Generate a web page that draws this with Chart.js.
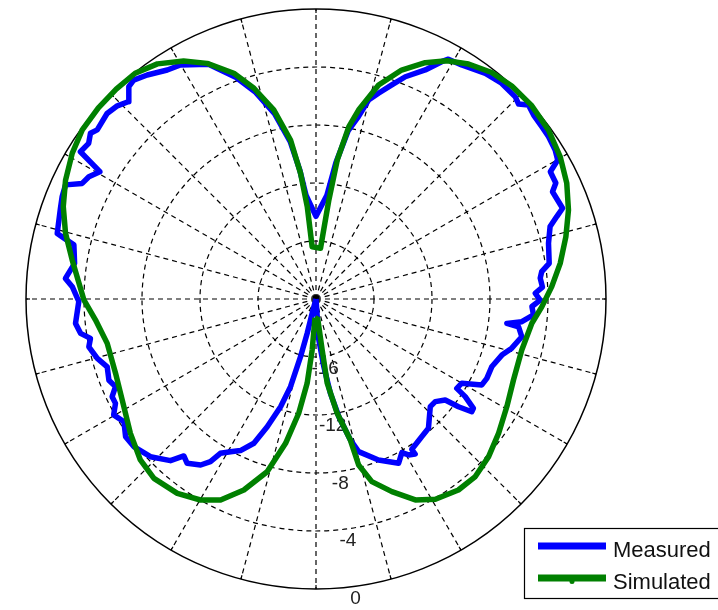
<!DOCTYPE html>
<html><head><meta charset="utf-8">
<script src="https://cdn.jsdelivr.net/npm/chart.js@4"></script>
<style>html,body{margin:0;padding:0;background:#fff}#wrap{width:718px;height:610px;position:relative}</style>
</head><body><div id="wrap"><canvas id="c"></canvas></div>
<script>
// Radial rings (dB) and their labels
const ringValues = [-20, -16, -12, -8, -4, 0];
const ringLabels = ['-16', '-12', '-8', '-4', '0'];
// Spoke directions (degrees clockwise from top)
const spokeAngles = [0,15,30,45,60,75,90,105,120,135,150,165,180,195,210,225,240,255,270,285,300,315,330,345];
const seriesNames = ['Measured', 'Simulated'];

// Measured pattern: angle (deg, clockwise from top) and gain (dB)
const measuredAngle = [-180,-165,-165.6,-165.0,-163.8,-161.8,-159.1,-156.7,-153.5,-150.8,
 -148.2,-147.0,-145.2,-141.9,-139.9,-138.0,-133.6,-129.0,-125.9,-122.6,
 -119.8,-117.5,-115.6,-113.6,-111.4,-108.0,-105.2,-101.9,-99.9,-98.3,
 -95.8,-90.6,-87.1,-85.3,-81.6,-77.4,-75.8,-70.5,-68.0,-65.5,
 -63.7,-61.7,-59.5,-58.0,-55.6,-53.7,-52.3,-48.4,-45.8,-43.6,
 -41.4,-39.8,-37.0,-33.0,-30.1,-24.6,-20.0,-16.4,-12.6,-9.3,
 -7.2,-5.5,0,6.0,8.3,10.8,13.1,14.8,16.9,19.5,
 21.9,25.5,27.9,28.9,31.9,36.9,40.7,44.6,46.1,47.6,
 49.8,52.6,55.1,58.1,60.1,61.5,64.2,65.6,69.8,71.1,
 72.8,76.5,81.3,83.1,84.7,87.0,88.5,90.3,92.0,94.2,
 96.3,97.3,97.8,100.4,104.1,106.8,111.1,114.9,117.4,120.0,
 122.4,123.2,124.8,125.9,127.1,128.0,130.7,133.3,139.0,142.5,
 145.8,147.5,147.4,149.3,150.8,153.3,158.8,164.4,166.3,169.0,
 171.3,173.4,176,180];
const measuredDb = [-20,-18.98,-17.56,-15.88,-13.7,-12.18,-10.57,-9.17,-8.32,-7.93,
 -7.48,-6.63,-6.06,-5.6,-5.85,-5.0,-4.23,-3.83,-3.79,-4.28,
 -3.92,-4.41,-4.41,-4.91,-4.66,-4.86,-4.37,-3.99,-4.21,-3.59,
 -3.33,-3.64,-3.17,-2.66,-3.17,-2.89,-1.59,-1.3,-1.12,-1.02,
 -2.01,-2.21,-2.7,-0.84,-1.0,-0.70,-0.93,-0.73,-0.89,-1.21,
 -0.48,-0.35,-0.66,-1.17,-1.35,-2.2,-3.7,-5.1,-6.9,-9.0,
 -11.0,-12.8,-14.3,-12.8,-10.5,-8.2,-7.09,-5.81,-5.17,-4.34,
 -3.48,-2.5,-1.48,-1.11,-0.99,-0.54,-0.37,-0.42,-0.61,-0.16,
 -0.35,-0.41,-0.44,-0.57,-0.77,-1.61,-1.63,-2.09,-1.88,-2.45,
 -3.1,-3.51,-3.73,-4.32,-4.47,-4.36,-4.88,-4.54,-5.1,-4.96,
 -5.72,-6.73,-5.9,-5.57,-6.08,-6.61,-7.01,-7.01,-7.12,-8.39,
 -8.5,-7.7,-6.78,-6.74,-7.68,-8.69,-9.15,-9.17,-8.18,-8.03,
 -7.83,-7.71,-7.31,-7.49,-7.86,-7.32,-8.09,-9.07,-10.0,-11.73,
 -13.42,-15.3,-17.17,-20];

// Simulated pattern
const simulatedAngle = [-177,-175.7,-174.0,-171.4,-168.1,-164.2,-159.3,-154.6,-150.1,-144.5,
 -137.9,-132.5,-125.9,-117.5,-110.3,-102.0,-95.4,-90.2,-80.9,-75.3,
 -69.9,-64.6,-59.1,-54.1,-48.7,-43.6,-38.7,-34.0,-29.1,-24.8,
 -20.0,-16.4,-12.6,-9.1,-7.0,-5.4,-4.2,5.1,7.4,8.7,
 10.8,12.7,16.3,20.5,24.8,28.8,33.0,37.8,42.6,48.0,
 54.0,59.8,65.2,70.6,76.0,81.7,87.0,92.0,96.4,103.9,
 112.3,119.4,126.3,132.4,138.1,143.3,149.2,153.7,158.5,163.0,
 165.6,166.3,169.5,172.4,173.1,175,183];
const simulatedDb = [-18.7,-16.47,-14.15,-12.03,-9.83,-7.62,-5.92,-4.66,-4.01,-3.53,
 -3.33,-3.57,-4.2,-4.93,-5.26,-5.28,-4.72,-3.99,-2.97,-2.14,
 -1.44,-0.88,-0.41,-0.1,-0.02,-0.02,-0.05,-0.44,-1.22,-2.1,
 -3.43,-4.85,-6.64,-8.9,-11.27,-13.6,-16.39,-16.49,-13.12,-10.3,
 -7.9,-6.64,-4.62,-3.14,-2.05,-1.25,-0.68,-0.23,-0.05,-0.02,
 -0.18,-0.51,-0.95,-1.54,-2.24,-2.98,-3.72,-4.42,-5.02,-5.38,
 -5.28,-4.89,-4.37,-3.88,-3.55,-3.57,-3.92,-4.54,-5.72,-6.83,
 -8.18,-9.99,-11.98,-14.14,-16.45,-18.6,-18.7];

const rMin = ringValues[0];
const rMax = ringValues[ringValues.length - 1];
const span = rMax - rMin;

function toXY(angles, dbs) {
  return angles.map((a, i) => {
    const r = dbs[i] - rMin;
    const t = a * Math.PI / 180;
    return { x: r * Math.sin(t), y: r * Math.cos(t) };
  });
}

const polarGrid = {
  id: 'polarGrid',
  beforeDatasetsDraw(chart) {
    const { ctx, scales: { x, y } } = chart;
    const cx = x.getPixelForValue(0), cy = y.getPixelForValue(0);
    const R = x.getPixelForValue(span) - cx;
    ctx.save();
    ctx.strokeStyle = '#000';
    ctx.lineWidth = 1.2;
    ctx.setLineDash([5, 4]);
    spokeAngles.forEach(a => {
      const t = a * Math.PI / 180;
      ctx.beginPath();
      ctx.moveTo(cx, cy);
      ctx.lineTo(cx + R * Math.sin(t), cy - R * Math.cos(t));
      ctx.stroke();
    });
    ringValues.slice(1, -1).forEach(v => {
      const r = x.getPixelForValue(v - rMin) - cx;
      ctx.beginPath();
      ctx.arc(cx, cy, r, 0, Math.PI * 2);
      ctx.stroke();
    });
    ctx.setLineDash([]);
    // solid tick at the end of each spoke
    ctx.lineWidth = 1.2;
    spokeAngles.forEach(a => {
      const t = a * Math.PI / 180;
      ctx.beginPath();
      ctx.moveTo(cx + (R - 4) * Math.sin(t), cy - (R - 4) * Math.cos(t));
      ctx.lineTo(cx + R * Math.sin(t), cy - R * Math.cos(t));
      ctx.stroke();
    });
    ctx.lineWidth = 1.5;
    ctx.beginPath();
    ctx.arc(cx, cy, R, 0, Math.PI * 2);
    ctx.stroke();
    ctx.fillStyle = '#000';
    ctx.beginPath();
    ctx.arc(cx, cy - 1, 3, 0, Math.PI * 2);
    ctx.fill();
    // ring labels
    ctx.fillStyle = '#222';
    ctx.font = '19px "Liberation Sans", Arial, sans-serif';
    ctx.textAlign = 'center';
    ctx.textBaseline = 'middle';
    const la = 7.5 * Math.PI / 180;
    ringValues.slice(1).forEach((v, i) => {
      const r = x.getPixelForValue(v - rMin) - cx + 12;
      ctx.fillText(ringLabels[i], cx + r * Math.sin(la), cy + r * Math.cos(la));
    });
    ctx.restore();
  }
};

const legendBox = {
  id: 'legendBox',
  afterDraw(chart) {
    const ctx = chart.ctx;
    ctx.save();
    ctx.fillStyle = '#fff';
    ctx.fillRect(524.5, 528.5, 200, 70);
    ctx.strokeStyle = '#000';
    ctx.lineWidth = 1.2;
    ctx.strokeRect(524.5, 528.5, 200, 70);
    [0, 1].forEach((di, i) => {
      const ds = chart.data.datasets[di];
      const yy = 546 + i * 32;
      ctx.strokeStyle = ds.borderColor;
      ctx.lineWidth = 7;
      ctx.beginPath();
      ctx.moveTo(538, yy);
      ctx.lineTo(606, yy);
      ctx.stroke();
      ctx.fillStyle = '#111';
      ctx.font = '22px "Liberation Sans", Arial, sans-serif';
      ctx.textAlign = 'left';
      ctx.textBaseline = 'alphabetic';
      ctx.fillText(ds.label, 613, yy + 10.5);
      if (i === 1) {
        ctx.fillStyle = ds.borderColor;
        ctx.beginPath();
        ctx.arc(572, yy + 3.5, 2.5, 0, Math.PI * 2);
        ctx.fill();
      }
    });
    ctx.restore();
  }
};

new Chart(document.getElementById('c'), {
  type: 'scatter',
  data: {
    datasets: [
      { label: seriesNames[0], data: toXY(measuredAngle, measuredDb), showLine: true,
        borderColor: '#0000ff', backgroundColor: '#0000ff', borderWidth: 5.5, pointRadius: 0,
        pointHoverRadius: 0, order: 2, clip: false, borderJoinStyle: 'round', tension: 0 },
      { label: seriesNames[1], data: toXY(simulatedAngle, simulatedDb), showLine: true,
        borderColor: '#008000', backgroundColor: '#008000', borderWidth: 5.5, pointRadius: 0,
        pointHoverRadius: 0, order: 1, clip: false, borderJoinStyle: 'round', tension: 0 }
    ]
  },
  options: {
    responsive: true,
    maintainAspectRatio: false,
    animation: false,
    layout: { padding: { left: 26, right: 112, top: 9, bottom: 21 } },
    scales: {
      x: { type: 'linear', min: -span, max: span, display: false },
      y: { type: 'linear', min: -span, max: span, display: false }
    },
    plugins: { legend: { display: false }, tooltip: { enabled: false } }
  },
  plugins: [polarGrid, legendBox]
});
</script>
</body></html>
